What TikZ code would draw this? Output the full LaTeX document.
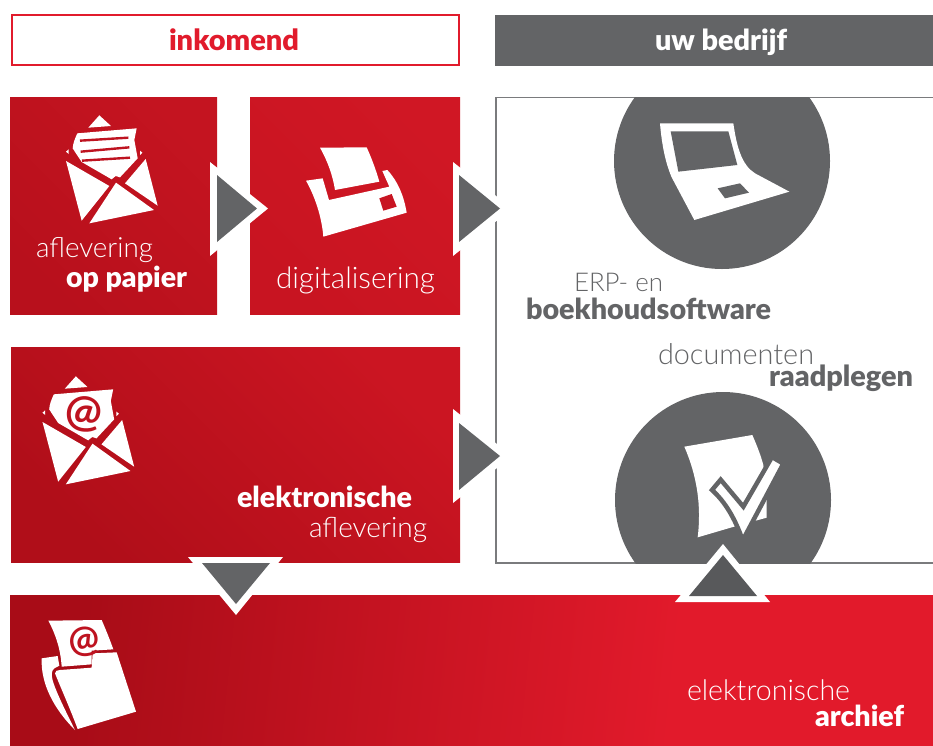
\documentclass[tikz,border=0pt]{standalone}
\usepackage{graphicx}
\usepackage{fontspec}
\setmainfont{Lato}
\newfontfamily\lightf{Lato Light}
\newfontfamily\boldf{Lato Black}
\newfontfamily\medf{Lato Bold}
\definecolor{dgray}{HTML}{636466}
\definecolor{agray}{HTML}{58595B}
\definecolor{hred}{HTML}{E11B2C}
\definecolor{iconred}{HTML}{BE1320}
\definecolor{bandA}{HTML}{A80C17}
\definecolor{bandB}{HTML}{E21A2B}
\definecolor{redC4}{HTML}{C41420}
\definecolor{redB4}{HTML}{B8101C}
\definecolor{redD4}{HTML}{D01724}
\definecolor{redC6}{HTML}{C81421}
\definecolor{redD0}{HTML}{CB1522}
\definecolor{redB2}{HTML}{B00E19}
\definecolor{redC8}{HTML}{C81522}
\pgfdeclarehorizontalshading{bandshade}{100bp}{color(0bp)=(bandA); color(27bp)=(bandA); color(62bp)=(bandB); color(100bp)=(bandB)}
\tikzset{
  x=1pt,y=-1pt,
  panelbox/.style={inner sep=0pt,outer sep=0pt,anchor=north west},
  lbl/.style={inner sep=0pt,outer sep=0pt,anchor=base west},
  whitearrow/.style={fill=white,draw=none},
  grayarrow/.style={fill=#1,draw=none},
  grayarrow/.default=dgray,
  iconwhite/.style={fill=white,draw=none},
  icongray/.style={fill=dgray,draw=none},
  iconline/.style={draw=iconred,line width=2.4pt},
}
\newcommand{\fitlabel}[7]{\node[lbl,text=#6] (#1) at (#2,#3) {\resizebox{#4pt}{!}{#5#7}};}
\newcommand{\envelopeicon}{%
  \fill[iconwhite] (265,113) -- (298,76) -- (333,108) -- cycle;
  \fill[iconwhite] (198,185) -- (206,178) -- (206,192) -- cycle;
  \fill[iconwhite] (420,182) -- (427,188) -- (420,195) -- cycle;
  \fill[iconwhite] (232,130) -- (410,115) -- (403,150) -- (413,205) -- (360,262) -- (347,258) -- (335,268) -- (245,216) -- (218,175) .. controls (219,160) and (225,145) .. (232,130) -- cycle;
  \fill[iconwhite] (198,213) -- (328,288) -- (245,392) -- cycle;
  \fill[iconwhite] (437,207) -- (473,347) -- (375,280) -- cycle;
  \fill[iconwhite] (348,278) -- (462,360) -- (268,400) -- cycle;
}
\begin{document}
\begin{tikzpicture}
\useasboundingbox (0,0) rectangle (933,745);
% headers
\node[panelbox,draw=hred,line width=2pt,fill=white,minimum width=447pt,minimum height=50pt] (hin) at (11.5,14.5) {};
\node[panelbox,fill=dgray,minimum width=438pt,minimum height=51pt] (hout) at (495,15) {};
% company panel
\coordinate (pa) at (933,97.5); \coordinate (pb) at (496,97.5);
\coordinate (pc) at (496,563); \coordinate (pd) at (933,563);
\draw[draw=dgray!85,line width=1.6pt] (pa) -- (pb) -- (pc) -- (pd);
\begin{scope}
\clip (490,97) rectangle (933,563);
\fill[dgray] (722,161) circle (108);
\fill[dgray] (723,500) circle (108);
\end{scope}
% red boxes
\node[panelbox,top color=redC4,bottom color=redB4,shading angle=-45,minimum width=207pt,minimum height=217.5pt] (papier) at (10,97) {};
\node[panelbox,top color=redD4,bottom color=redC6,shading angle=-45,minimum width=210pt,minimum height=217.5pt] (digi) at (250,97) {};
\node[panelbox,top color=redD0,bottom color=redB2,shading angle=-45,minimum width=449pt,minimum height=215.5pt] (elek) at (11,347) {};
\node[panelbox,shading=bandshade,shading angle=-6,minimum width=923pt,minimum height=150pt] (band) at (10,595) {};
% envelope with letter
\begin{scope}[shift={(0,90)},scale=1/3]
  \envelopeicon
  \draw[iconline] (240,152) -- (385,143);
  \draw[iconline] (242,185) -- (388,172);
  \draw[iconline] (246,212) -- (390,203);
\end{scope}
% envelope with at sign
\begin{scope}[shift={(-23.5,351)},scale=1/3]
  \envelopeicon
\end{scope}
\node[inner sep=0pt,text=iconred,rotate=-4] (atone) at (83.5,414) {\resizebox{37pt}{!}{\medf @}};
% printer
\begin{scope}[shift={(250,90)},scale=1/3]
  \fill[iconwhite] (210,173) -- (350,172) .. controls (365,205) and (378,240) .. (388,275) -- (255,300) .. controls (248,255) and (232,212) .. (210,173) -- cycle;
  \fill[iconwhite] (168,272) -- (218,265) -- (237,330) -- (418,290) -- (397,243) -- (412,240) .. controls (445,275) and (462,320) .. (470,368) -- (220,440) .. controls (215,380) and (195,320) .. (168,272) -- cycle;
  \fill[fill=redC8] (388,325) -- (425,312) -- (440,350) -- (400,362) -- cycle;
\end{scope}
% laptop
\begin{scope}[shift={(600,90)},scale=1/3]
  \fill[iconwhite] (180,100) -- (400,100) .. controls (410,170) and (425,225) .. (465,250) -- (568,305) -- (283,390) -- (215,262) .. controls (195,215) and (185,160) .. (180,100) -- cycle;
  \fill[icongray] (212,124) -- (385,124) -- (412,225) -- (235,245) -- cycle;
  \fill[icongray] (353,295) -- (420,280) -- (447,308) -- (375,325) -- cycle;
\end{scope}
% check document
\begin{scope}[shift={(600,385)},scale=1/3]
  \fill[iconwhite] (253,185) -- (457,150) .. controls (470,180) and (482,210) .. (490,240) -- (500,345) -- (500,398) -- (402,425) -- (293,457) .. controls (305,360) and (290,270) .. (253,185) -- cycle;
  \fill[iconwhite,draw=dgray,line width=4.5pt] (336,315) -- (362,284) -- (430,365) -- (516,216) -- (550,236) -- (428,466) .. controls (405,400) and (375,350) .. (336,315) -- cycle;
\end{scope}
% archive
\begin{scope}[shift={(20,605)},scale=1/3]
  \fill[iconwhite] (85,47) -- (245,45) .. controls (258,75) and (270,105) .. (280,133) -- (215,137) -- (215,178) -- (125,185) .. controls (122,135) and (108,90) .. (85,47) -- cycle;
  \fill[iconwhite] (290,142) -- (348,320) -- (173,372) .. controls (150,310) and (125,255) .. (105,205) .. controls (105,198) and (112,195) .. (120,195) -- (215,188) -- (218,145) -- cycle;
  \fill[iconwhite] (65,160) -- (113,153) -- (118,182) -- (103,190) .. controls (85,205) and (95,235) .. (165,375) .. controls (100,310) and (62,235) .. (65,160) -- cycle;
\end{scope}
\node[inner sep=0pt,text=iconred,rotate=8] (attwo) at (84.5,642) {\resizebox{31pt}{!}{\medf @}};
% triangular arrows
\fill[whitearrow] (210,162) -- (268,208.5) -- (210,256) -- cycle;
\fill[grayarrow] (217,175) -- (257,208.5) -- (217,242) -- cycle;
\fill[whitearrow] (453,162) -- (512,208.5) -- (453,256) -- cycle;
\fill[grayarrow] (459,175) -- (500,208.5) -- (459,242) -- cycle;
\fill[whitearrow] (453,409) -- (512,456) -- (453,503) -- cycle;
\fill[grayarrow] (459,423) -- (500,456) -- (459,490) -- cycle;
\fill[whitearrow] (188,557) -- (283,557) -- (236,615) -- cycle;
\fill[grayarrow] (202,563) -- (270,563) -- (236,604) -- cycle;
\fill[whitearrow] (723,544) -- (770,602) -- (675,602) -- cycle;
\fill[grayarrow=agray] (723,555) -- (757,596) -- (689,596) -- cycle;
% labels
\fitlabel{tin}{169}{50}{130}{\boldf}{hred}{inkomend}
\fitlabel{tout}{655}{50}{132}{\boldf}{white}{uw bedrijf}
\fitlabel{ta}{36}{257}{117}{\lightf}{white}{aflevering}
\fitlabel{tb}{66}{287}{121}{\boldf}{white}{op papier}
\fitlabel{tc}{276}{288}{159}{\lightf}{white}{digitalisering}
\fitlabel{td}{237}{507}{175}{\boldf}{white}{elektronische}
\fitlabel{te}{309}{537}{118}{\lightf}{white}{aflevering}
\fitlabel{tf}{574}{291}{89}{\lightf}{dgray}{ERP- en}
\fitlabel{tg}{526}{319.5}{245}{\boldf}{dgray}{boekhoudsoftware}
\fitlabel{th}{658}{364}{156}{\lightf}{dgray}{documenten}
\fitlabel{ti}{769}{386}{144}{\boldf}{dgray}{raadplegen}
\fitlabel{tj}{687}{700}{163}{\lightf}{white}{elektronische}
\fitlabel{tk}{815}{726}{89}{\boldf}{white}{archief}
\end{tikzpicture}
\end{document}
